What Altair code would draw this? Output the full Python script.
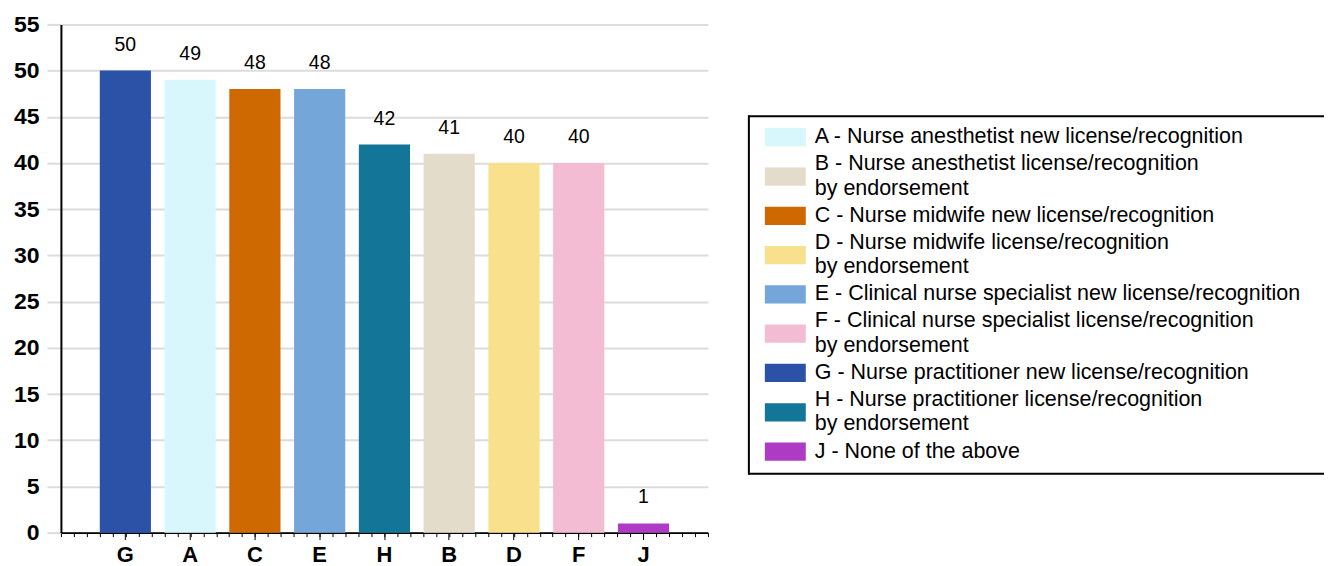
import altair as alt
import pandas as pd

codes = ["A", "B", "C", "D", "E", "F", "G", "H", "J"]
label_line1 = [
    "A - Nurse anesthetist new license/recognition",
    "B - Nurse anesthetist license/recognition",
    "C - Nurse midwife new license/recognition",
    "D - Nurse midwife license/recognition",
    "E - Clinical nurse specialist new license/recognition",
    "F - Clinical nurse specialist license/recognition",
    "G - Nurse practitioner new license/recognition",
    "H - Nurse practitioner license/recognition",
    "J - None of the above",
]
label_line2 = ["", "by endorsement", "", "by endorsement", "",
               "by endorsement", "", "by endorsement", ""]
values = [49, 41, 48, 40, 48, 40, 50, 42, 1]
colors = ["#D7F7FC", "#E4DCCB", "#CD6900", "#F9E08C", "#74A6DA",
          "#F3BCD2", "#2C52A8", "#137597", "#AE3BC4"]
bar_order = ["G", "A", "C", "E", "H", "B", "D", "F", "J"]
y_ticks = list(range(0, 56, 5))
minor_positions = [0, 50]

FONT = "Liberation Sans"

df = pd.DataFrame({"code": codes, "value": values})
color_scale = alt.Scale(domain=codes, range=colors)

# ---------------- bar chart ----------------
x_enc = alt.X("code:N", sort=bar_order,
              scale=alt.Scale(paddingInner=0.21, paddingOuter=0.6),
              axis=alt.Axis(title=None, labelAngle=0, labelFont=FONT,
                            labelFontSize=22, labelFontWeight="bold",
                            labelColor="black", labelPadding=5,
                            tickSize=7, tickColor="black", tickWidth=1,
                            domainColor="black", domainWidth=2,
                            grid=False, orient="bottom"))
y_enc = alt.Y("value:Q",
              scale=alt.Scale(domain=[0, 55], nice=False),
              axis=alt.Axis(title=None, values=y_ticks, labelFont=FONT,
                            labelFontSize=23, labelFontWeight="bold",
                            labelColor="black", labelPadding=8,
                            tickSize=14, tickColor="#DCDCDC", tickWidth=2,
                            domainColor="black", domainWidth=2,
                            grid=True, gridColor="#DCDCDC", gridWidth=2))

bars = alt.Chart(df).mark_bar().encode(
    x=x_enc,
    y=y_enc,
    color=alt.Color("code:N", scale=color_scale, legend=None),
)

text = alt.Chart(df).mark_text(font=FONT, fontSize=19.5, color="black",
                               baseline="alphabetic", dy=-20).encode(
    x=alt.X("code:N", sort=bar_order),
    y="value:Q",
    text="value:Q",
)

minor = alt.Chart(pd.DataFrame({"m": minor_positions})).mark_point(opacity=0).encode(
    x=alt.X("m:Q", scale=alt.Scale(domain=[0, 50], nice=False, zero=False),
            axis=alt.Axis(title=None, values=list(range(0, 51)), labels=False,
                          domain=False, grid=False, tickSize=4,
                          tickColor="black", tickWidth=1, orient="bottom")),
    y=alt.value(500),
)

bar_chart = alt.layer(alt.layer(bars, text), minor).resolve_scale(
    x="independent").properties(width=648, height=509)

# ---------------- legend ----------------
n_lines = [2 if l2 else 1 for l2 in label_line2]
leg = pd.DataFrame({"code": codes, "line1": label_line1, "line2": label_line2,
                    "row": list(range(len(codes))), "n": n_lines})

row_scale = alt.Scale(domain=[-2.8717, 10.0635], reverse=True, nice=False, zero=False)
frame_df = pd.DataFrame({"k": [0]})
LEG_W = 576

frame_top = alt.Chart(frame_df).mark_rule(color="black", strokeWidth=2).encode(
    x=alt.value(0), x2=alt.value(LEG_W), y=alt.value(92))
frame_bottom = alt.Chart(frame_df).mark_rule(color="black", strokeWidth=2).encode(
    x=alt.value(0), x2=alt.value(LEG_W), y=alt.value(450))
frame_left = alt.Chart(frame_df).mark_rule(color="black", strokeWidth=2).encode(
    x=alt.value(0), y=alt.value(91), y2=alt.value(451))

symbols = alt.Chart(leg).mark_point(
    shape="M-1,-0.446H1V0.446H-1Z", filled=True, size=1681, opacity=1,
    strokeWidth=0).encode(
    x=alt.value(36.5),
    y=alt.Y("row:Q", scale=row_scale, axis=None),
    color=alt.Color("code:N", scale=color_scale, legend=None),
)

text1 = alt.Chart(leg).transform_calculate(
    pos="datum.row - 0.31 * (datum.n - 1)").mark_text(
    font=FONT, fontSize=21.5, color="black", align="left", baseline="middle").encode(
    x=alt.value(66),
    y=alt.Y("pos:Q", scale=row_scale, axis=None),
    text="line1:N",
)

text2 = alt.Chart(leg).transform_filter("datum.n > 1").transform_calculate(
    pos="datum.row + 0.31").mark_text(
    font=FONT, fontSize=21.5, color="black", align="left", baseline="middle").encode(
    x=alt.value(66),
    y=alt.Y("pos:Q", scale=row_scale, axis=None),
    text="line2:N",
)

legend_chart = alt.layer(frame_top, frame_bottom, frame_left, symbols, text1, text2
                         ).properties(width=LEG_W, height=509)

chart = alt.hconcat(bar_chart, legend_chart, spacing=41, bounds="flush").resolve_scale(
    x="independent", y="independent", color="shared").properties(
    padding={"left": 5, "top": 5, "right": 0, "bottom": 0},
).configure_view(stroke=None)

chart.save("out.html", embed_options={"renderer": "svg", "actions": False})
